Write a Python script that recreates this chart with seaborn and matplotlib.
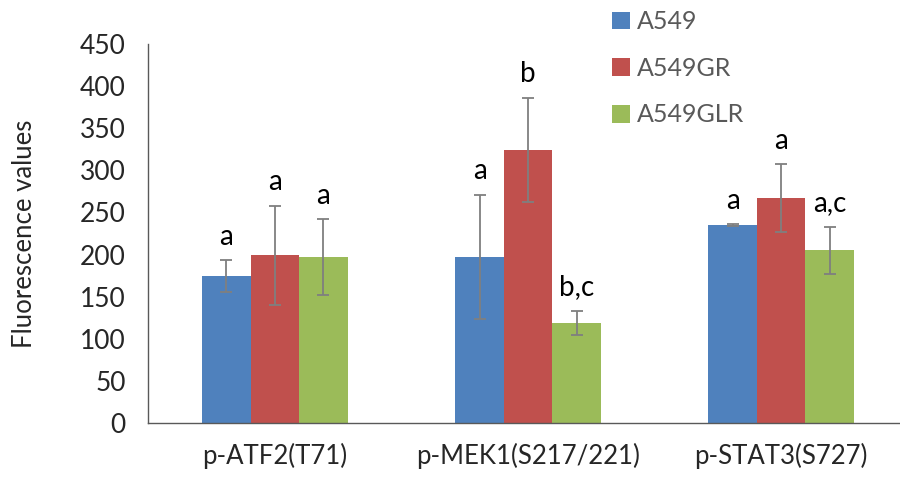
import pandas as pd
import matplotlib.pyplot as plt
import seaborn as sns

categories = ["p-ATF2(T71)", "p-MEK1(S217/221)", "p-STAT3(S727)"]
groups = ["A549", "A549GR", "A549GLR"]

a549 = [174, 197, 235]
a549_sd = [19, 74, 1]
a549gr = [199, 324, 267]
a549gr_sd = [59, 62, 40]
a549glr = [197, 119, 205]
a549glr_sd = [45, 14, 28]

a549_sig = ["a", "a", "a"]
a549gr_sig = ["a", "b", "a"]
a549glr_sig = ["a", "b,c", "a,c"]

colors = ["#4F81BD", "#C0504D", "#9BBB59"]

sns.set_style("white")
plt.rcParams["font.family"] = ["Lato", "DejaVu Sans"]

rows = []
for g, vals in zip(groups, [a549, a549gr, a549glr]):
    for c, v in zip(categories, vals):
        rows.append({"target": c, "line": g, "value": v})
df = pd.DataFrame(rows)

fig = plt.figure(figsize=(9, 4.83), dpi=100)
ax = fig.add_axes([0.1644, 0.1242, 1 - 0.1644, 0.7847])

sns.barplot(data=df, x="target", y="value", hue="line", order=categories,
            hue_order=groups, palette=colors, width=0.575, gap=0,
            errorbar=None, linewidth=0, saturation=1, ax=ax)

sds = [a549_sd, a549gr_sd, a549glr_sd]
sigs = [a549_sig, a549gr_sig, a549glr_sig]
for cont, sd, sig in zip(ax.containers, sds, sigs):
    for bar, s, lab in zip(cont, sd, sig):
        xc = bar.get_x() + bar.get_width() / 2
        h = bar.get_height()
        ax.errorbar(xc, h, yerr=s, color="#7f7f7f", capsize=4, elinewidth=1.3,
                    capthick=1.3)
        ax.annotate(lab, (xc, h + s), xytext=(0, 17), textcoords="offset points",
                    ha="center", va="center", fontsize=20, color="black")

ax.set_ylim(0, 450)
ax.set_xlim(-0.502, 2.47)
ax.set_yticks(range(0, 451, 50))
ax.tick_params(axis="y", length=0, pad=16, labelsize=19)
ax.tick_params(axis="x", length=0, pad=14, labelsize=18.5)
ax.set_xlabel("")
ax.set_ylabel("Fluorescence values", fontsize=18.5)
ax.yaxis.set_label_coords(-0.148, 0.5)

for side in ["top", "right"]:
    ax.spines[side].set_visible(False)
for side in ["left", "bottom"]:
    ax.spines[side].set_color("#595959")
    ax.spines[side].set_linewidth(1)

handles, labels = ax.get_legend_handles_labels()
ax.legend(handles, labels, loc="upper left", bbox_to_anchor=(0.669, 1.0),
          bbox_transform=fig.transFigure, frameon=False, fontsize=18,
          labelcolor="#595959", handlelength=0.7, handleheight=0.7,
          handletextpad=0.3, labelspacing=0.95, borderaxespad=0)

fig.savefig("out.png", dpi=100)
